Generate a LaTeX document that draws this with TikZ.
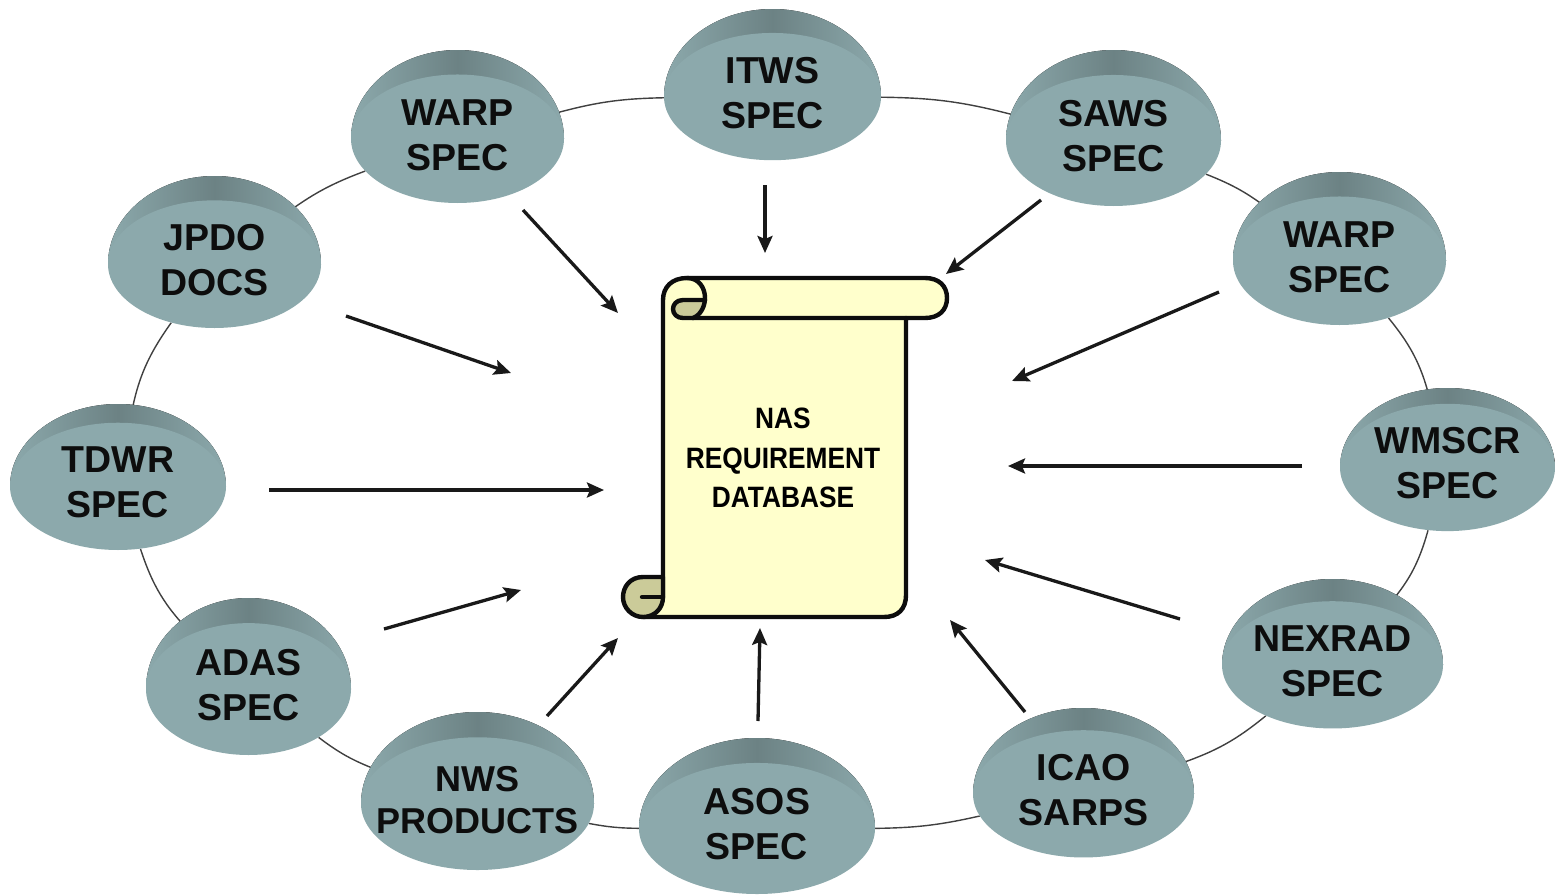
\documentclass[tikz,border=0pt]{standalone}
\usepackage{fontspec}
\setmainfont{Liberation Sans}
\usetikzlibrary{arrows.meta,shapes.geometric,backgrounds}
\definecolor{discface}{HTML}{8CA9AC}
\definecolor{discband}{HTML}{6C8284}
\definecolor{scrollface}{HTML}{FFFFCC}
\definecolor{scrolldark}{HTML}{CBCB99}
\tikzset{
  discnode/.style={ellipse,inner sep=0pt,fill=discface,text=black!95,
    font=\fontsize{37.5}{45}\selectfont\bfseries},
  flow/.style={line width=3.3pt,-{Stealth[length=17pt,width=15pt,inset=3pt]},black!90},
  ring/.style={line width=1.4pt,black!75},
  scrollline/.style={line width=4.4pt,line join=round,line cap=round,draw=black!95}
}
\newcommand{\discshape}[4]{%
  \pgfmathsetmacro{\cxx}{(#1+#2)/2}
  \pgfmathsetmacro{\hh}{#4-#3}
  \pgfmathsetmacro{\cyy}{#4-0.42*\hh}
  \pgfmathsetmacro{\rxx}{(#2-#1)/2}
  \pgfmathsetmacro{\ryy}{\cyy-#3}
  \pgfmathsetmacro{\fh}{0.84*\hh}
  \pgfmathsetmacro{\kx}{0.5523*\rxx}
  \pgfmathsetmacro{\ky}{\cyy-0.5523*\ryy}
  \pgfmathsetmacro{\aax}{\cxx-\kx}
  \pgfmathsetmacro{\bbx}{\cxx+\kx}
  \fill[left color=discface,right color=discface,middle color=discband]
    (#1,\cyy) .. controls (#1,\ky) and (\aax,#3) .. (\cxx,#3)
    .. controls (\bbx,#3) and (#2,\ky) .. (#2,\cyy) -- cycle;
}
\begin{document}
\begin{tikzpicture}[x=1pt,y=-1pt]
\useasboundingbox (0,0) rectangle (1555,894);
% discs: band behind, face node over it
\newcommand{\mydisc}[7][]{%
  \discshape{#3}{#4}{#5}{#6}
  \node[discnode,minimum width={(#4-#3)*1pt},minimum height={\fh*1pt},#1] (#2) at (\cxx,\cyy)
    {\makebox[0pt]{\raisebox{-4pt}{\begin{tabular}{@{}c@{}}#7\end{tabular}}}};
}
\mydisc{itws}{664}{881}{9}{160}{ITWS\\SPEC}
\mydisc{warpa}{351}{564}{50}{203}{WARP\\SPEC}
\mydisc{saws}{1006}{1221}{50}{206}{SAWS\\SPEC}
\mydisc{warpb}{1233}{1446}{172}{325}{WARP\\SPEC}
\mydisc{wmscr}{1340}{1555}{388}{525}{WMSCR\\SPEC}
\mydisc{nexrad}{1222}{1443}{579}{727}{NEXRAD\\SPEC}
\mydisc{icao}{973}{1194}{708}{856}{ICAO\\SARPS}
\mydisc{asos}{639}{875}{738}{894}{ASOS\\SPEC}
\mydisc[font=\fontsize{36}{42}\selectfont\bfseries]{nws}{361}{594}{712}{870}{NWS\\PRODUCTS}
\mydisc{adas}{146}{351}{598}{755}{ADAS\\SPEC}
\mydisc{tdwr}{10}{226}{404}{546}{TDWR\\SPEC}
\mydisc{jpdo}{108}{321}{176}{328}{JPDO\\DOCS}
% ring
\begin{scope}[on background layer]
\fill[white] (0,0) rectangle (1555,894);
\draw[ring] (warpa) to[bend left=7] (itws);
\draw[ring] (itws) to[bend left=7] (saws);
\draw[ring] (saws) to[bend left=8] (warpb);
\draw[ring] (warpb) to[bend left=13] (wmscr);
\draw[ring] (wmscr) to[bend left=13] (nexrad);
\draw[ring] (nexrad) to[bend left=10] (icao);
\draw[ring] (icao) to[bend left=6] (asos);
\draw[ring] (asos) to[bend left=5] (nws);
\draw[ring] (nws) to[bend left=8] (adas);
\draw[ring] (adas) to[bend left=13] (tdwr);
\draw[ring] (tdwr) to[bend left=13] (jpdo);
\draw[ring] (jpdo) to[bend left=8] (warpa);
\end{scope}
% scroll
\draw[scrollline,fill=scrollface] (643,617) -- (884,617)
  .. controls (898,617) and (906,609) .. (906,595) -- (906,318) -- (925,318)
  .. controls (939,318) and (947,310) .. (947,298)
  .. controls (947,286) and (939,278) .. (925,278) -- (687,278)
  .. controls (672,278) and (663,287) .. (663,300) -- (663,597) -- cycle;
\fill[scrolldark] (705,300) -- (683,300) .. controls (676,300) and (673,305) .. (673,309)
  .. controls (673,314) and (677,318) .. (683,318) -- (693,318)
  .. controls (700,314) and (705,307) .. (705,300) -- cycle;
\draw[scrollline] (687,278) .. controls (699,278) and (705,288) .. (705,298)
  .. controls (705,308) and (699,316) .. (693,318);
\draw[scrollline] (705,300) -- (683,300) .. controls (676,300) and (673,305) .. (673,309)
  .. controls (673,314) and (677,318) .. (683,318) -- (906,318);
\draw[scrollline,fill=scrolldark] (663,577) -- (643,577)
  .. controls (630,577) and (623,587) .. (623,597)
  .. controls (623,608) and (632,617) .. (643,617)
  .. controls (655,617) and (663,608) .. (663,597) -- (663,577);
\draw[scrollline] (642,597) -- (663,597);
\node[font=\fontsize{26.3}{35.3}\selectfont\bfseries,align=center,text=black,inner sep=0pt,yscale=1.12] (db) at (783,458) {NAS\\REQUIREMENT\\DATABASE};
% arrows
\foreach \nm/\ax/\ay/\bx/\by in {
  aa/765/185/765/253, ab/523/210/618/313, ac/1041/200/946/274, ad/346/316/511/373,
  ae/1219/292/1012/381, af/269/490/604/490, ag/1302/466/1008/466, ah/384/629/521/590,
  ai/1180/619/985/560, aj/547/716/618/638, ak/758/721/760/628, al/1025/712/950/620}{
  \coordinate (\nm s) at (\ax,\ay);
  \coordinate (\nm e) at (\bx,\by);
  \draw[flow] (\nm s) -- (\nm e);
}
\end{tikzpicture}
\end{document}
